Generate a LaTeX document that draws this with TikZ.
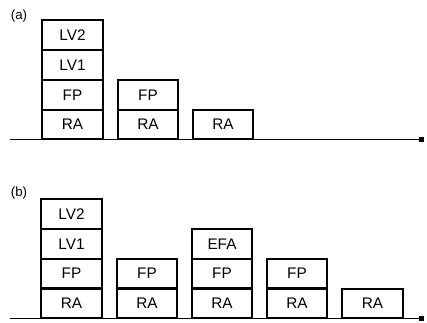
\documentclass[tikz,border=0pt]{standalone}
\usepackage{fontspec}
\setmainfont{Liberation Sans}
\usetikzlibrary{arrows.meta}
\begin{document}
\begin{tikzpicture}[x=0.75pt,y=-0.75pt,
  cell/.style={draw,line width=1.4pt,minimum width=45.5pt,minimum height=22.3pt,inner sep=0pt,font=\fontsize{11.5}{13}\selectfont},
  axisline/.style={line width=1.1pt,-{Square[length=3.5pt,width=3.5pt]}},
  plabel/.style={font=\fontsize{10}{11}\selectfont,inner sep=0pt}]
\useasboundingbox (0,0) rectangle (427,323);
% panel (a)
\node[plabel] (la) at (19,16) {(a)};
\node[cell] (a1ra) at (72.5,124.5) {RA};
\node[cell] (a1fp) at (72.5,95) {FP};
\node[cell] (a1l1) at (72.5,65) {LV1};
\node[cell] (a1l2) at (72.5,35) {LV2};
\node[cell] (a2ra) at (148,124.5) {RA};
\node[cell] (a2fp) at (148,95) {FP};
\node[cell] (a3ra) at (223,124.5) {RA};
\coordinate (a0) at (10,139.5);
\coordinate (a9) at (424,139.5);
\draw[axisline] (a0) -- (a9);
% panel (b)
\node[plabel] (lb) at (19,193) {(b)};
\node[cell] (b1ra) at (71.5,303.5) {RA};
\node[cell] (b1fp) at (71.5,273.5) {FP};
\node[cell] (b1l1) at (71.5,244) {LV1};
\node[cell] (b1l2) at (71.5,214) {LV2};
\node[cell] (b2ra) at (147,303.5) {RA};
\node[cell] (b2fp) at (147,273.5) {FP};
\node[cell] (b3ra) at (222,303.5) {RA};
\node[cell] (b3fp) at (222,273.5) {FP};
\node[cell] (b3ef) at (222,244) {EFA};
\node[cell] (b4ra) at (297,303.5) {RA};
\node[cell] (b4fp) at (297,273.5) {FP};
\node[cell] (b5ra) at (372.5,303.5) {RA};
\coordinate (b0) at (10,318.5);
\coordinate (b9) at (424,318.5);
\draw[axisline] (b0) -- (b9);
\end{tikzpicture}
\end{document}
